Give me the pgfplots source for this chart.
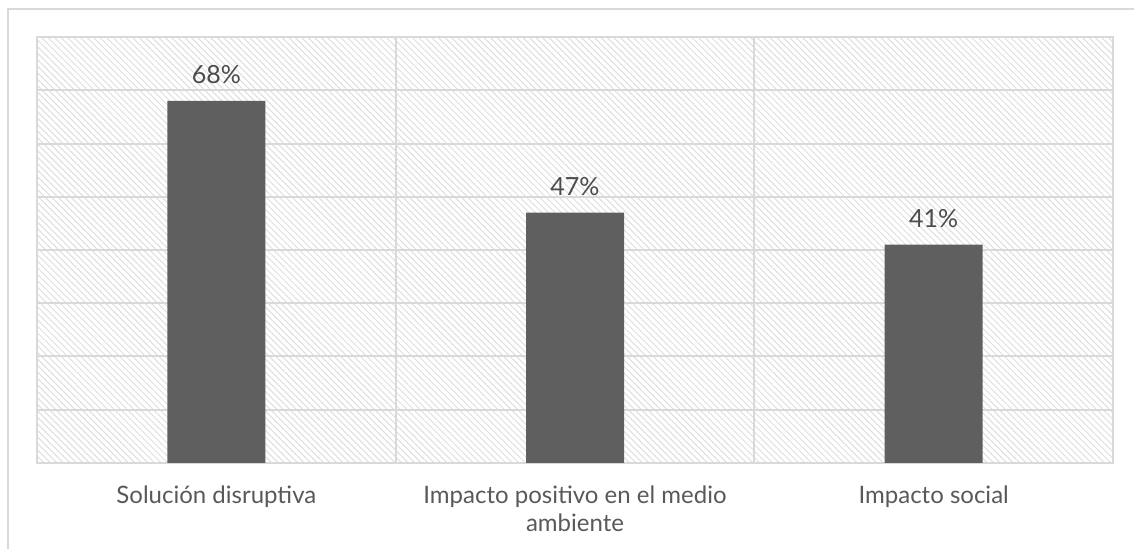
\documentclass[border=0pt]{standalone}
\usepackage{fontspec}
\setmainfont{Lato}
\usepackage{pgfplots}
\pgfplotsset{compat=1.18}
\usetikzlibrary{patterns.meta}
\definecolor{bargray}{RGB}{95,95,95}
\definecolor{gridgray}{RGB}{217,217,217}
\definecolor{hatchgray}{RGB}{222,222,222}
\definecolor{txtgray}{RGB}{89,89,89}
\begin{document}
\begin{tikzpicture}
\useasboundingbox (-18.5pt,-43pt) rectangle (548.5pt,231.5pt);
\draw[gridgray, line width=1pt] (-14.5pt,-45pt) -- (-14.5pt,227pt) -- (550pt,227pt);
\begin{axis}[
  at={(0,0)}, anchor=south west,
  scale only axis,
  width=538pt, height=213pt,
  xmin=-0.5, xmax=2.5, ymin=0, ymax=80,
  axis background/.style={pattern={Lines[angle=-45,distance=2.3pt,line width=0.5pt]}, pattern color=hatchgray},
  axis line style={gridgray, line width=1pt},
  ytick={0,10,...,80}, yticklabels={},
  ymajorgrids,
  major grid style={gridgray, line width=1pt},
  xtick={0,1,2},
  xticklabels={Solución disruptiva,{Impacto positivo en el medio\\ambiente},Impacto social},
  extra x ticks={0.5,1.5},
  extra x tick labels={},
  extra x tick style={xmajorgrids, major grid style={gridgray, line width=1pt}},
  major tick length=0pt,
  xticklabel style={align=center, anchor=north, inner sep=0pt, yshift=-11.3pt,
     font=\fontsize{12}{14}\selectfont, text=txtgray},
  /pgf/number format/assume math mode=true,
  ybar, bar width=49pt,
  nodes near coords={\pgfmathprintnumber{\pgfplotspointmeta}\%},
  every node near coord/.append style={anchor=base, yshift=8.5pt, inner sep=0pt,
     font=\fontsize{12.5}{14}\selectfont, text=txtgray!85!black},
]
\addplot[fill=bargray, draw=none] coordinates {(0,68) (1,47) (2,41)};
\end{axis}
\end{tikzpicture}
\end{document}
